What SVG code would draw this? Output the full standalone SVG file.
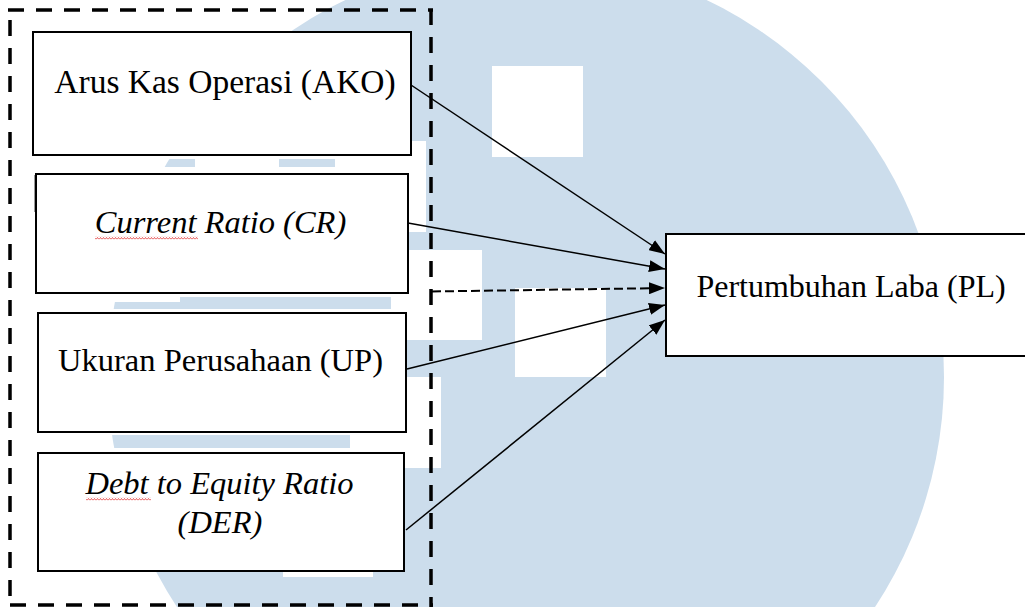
<svg xmlns="http://www.w3.org/2000/svg" width="1025" height="607" viewBox="0 0 1025 607">
  <style>
    .box { fill: #ffffff; stroke: #000000; stroke-width: 2; }
    .lbl { font-family: "Liberation Serif", "Times New Roman", serif; fill: #000000; text-anchor: middle; }
    .it { font-style: italic; }
    .edge { fill: none; stroke: #000000; stroke-width: 1.5; }
    .dashedge { fill: none; stroke: #000000; stroke-width: 2; stroke-dasharray: 9 4; }
    .frame { fill: none; stroke: #000000; stroke-width: 3.5; stroke-dasharray: 16 12; }
    .wm { fill: #ccddec; }
    .wh { fill: #ffffff; }
  </style>
  <defs>
    <marker id="arrow" markerUnits="userSpaceOnUse" viewBox="0 0 16 12" markerWidth="16" markerHeight="12" refX="16" refY="6" orient="auto">
      <path d="M0,0 L16,6 L0,12 z" fill="#000000"/>
    </marker>
    <pattern id="squiggle" patternUnits="userSpaceOnUse" x="0" y="0" width="3" height="3">
      <path d="M0,2.5 L1.5,0.5 L3,2.5" fill="none" stroke="#e03030" stroke-width="0.8"/>
    </pattern>
  </defs>

  <rect x="0" y="0" width="1025" height="607" fill="#ffffff"/>

  <!-- watermark background -->
  <g id="watermark">
    <circle class="wm" cx="526" cy="377" r="418"/>
    <rect class="wh" x="492" y="66" width="91" height="91"/>
    <rect class="wh" x="515" y="288" width="91" height="89"/>
    <rect class="wh" x="391" y="250" width="91" height="90"/>
    <rect class="wh" x="335" y="141" width="91" height="91"/>
    <rect class="wh" x="350" y="377" width="91" height="91"/>
    <rect class="wh" x="283" y="487" width="90" height="90"/>
    <rect class="wh" x="195" y="150" width="84" height="25"/>
    <rect class="wh" x="30" y="155" width="382" height="4"/>
    <rect class="wh" x="30" y="167" width="382" height="8"/>
    <rect class="wh" x="30" y="292" width="380" height="5"/>
    <rect class="wh" x="30" y="292" width="150" height="10"/>
    <rect class="wh" x="30" y="309" width="380" height="5"/>
    <rect class="wh" x="30" y="431" width="380" height="4"/>
    <rect class="wh" x="30" y="448" width="380" height="5"/>
  </g>

  <!-- dashed grouping frame -->
  <g id="frame">
    <path class="frame" d="M8,10 H433"/>
    <path class="frame" d="M431,9 V607"/>
    <path class="frame" d="M10,605 H433"/>
    <path class="frame" d="M10,20 V607"/>
  </g>

  <g id="node-ako">
    <rect class="box" x="33" y="32" width="378" height="123"/>
    <text class="lbl" x="225" y="93" font-size="33.5">Arus Kas Operasi (AKO)</text>
  </g>

  <g id="node-cr">
    <rect class="box" x="36" y="174" width="372" height="119"/>
    <line x1="34.5" y1="175" x2="34.5" y2="212" stroke="#9a9a9a" stroke-width="1"/>
    <rect x="95" y="236.5" width="103" height="3" fill="url(#squiggle)"/>
    <text class="lbl it" x="220.5" y="233" font-size="32.5">Current Ratio (CR)</text>
  </g>

  <g id="node-up">
    <rect class="box" x="38" y="313" width="368" height="119"/>
    <text class="lbl" x="220.5" y="371" font-size="32.5">Ukuran Perusahaan (UP)</text>
  </g>

  <g id="node-der">
    <rect class="box" x="38" y="453" width="366" height="118"/>
    <rect x="86" y="497.5" width="65" height="3" fill="url(#squiggle)"/>
    <text class="lbl it" x="219.5" y="494" font-size="32.5">Debt to Equity Ratio</text>
    <text class="lbl it" x="220" y="533" font-size="32.5">(DER)</text>
  </g>

  <g id="node-pl">
    <rect class="box" x="666" y="234" width="380" height="122"/>
    <text class="lbl" x="851" y="297" font-size="32">Pertumbuhan Laba (PL)</text>
  </g>

  <g id="connectors">
    <path class="edge" d="M411,85 L665,254" marker-end="url(#arrow)"/>
    <path class="edge" d="M408,223 L665,269" marker-end="url(#arrow)"/>
    <path class="dashedge" d="M432,291.5 L665,288" marker-end="url(#arrow)"/>
    <path class="edge" d="M407,369 L665,305" marker-end="url(#arrow)"/>
    <path class="edge" d="M406,530 L665,320" marker-end="url(#arrow)"/>
  </g>
</svg>
